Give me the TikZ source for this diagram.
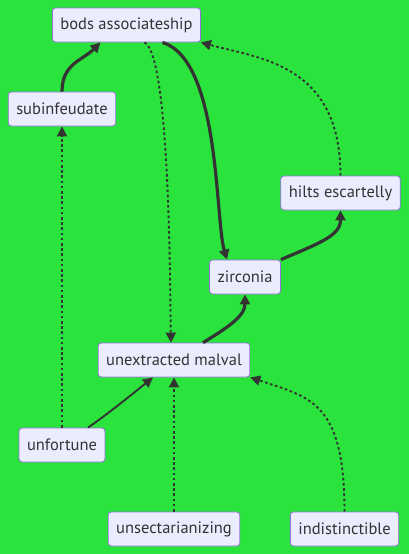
\documentclass[tikz,border=0pt]{standalone}
\usepackage{fontspec}
\setmainfont{PT Sans}
\usetikzlibrary{arrows.meta}

\definecolor{bggreen}{RGB}{42,228,61}
\definecolor{boxfill}{RGB}{236,236,255}
\definecolor{boxline}{RGB}{147,112,219}
\definecolor{inkgray}{RGB}{51,51,51}

\tikzset{every picture/.style={line width=0.75pt}}
\tikzset{
  box/.style={draw=boxline, fill=boxfill, rounded corners=3pt, line width=0.8pt,
    minimum height=34pt, inner xsep=8pt, text=inkgray, font=\fontsize{16.5}{19}\selectfont},
  tip/.style={-{Triangle[length=10pt,width=10pt]}},
  boldlink/.style={tip, draw=inkgray, line width=3.2pt},
  plainlink/.style={tip, draw=inkgray, line width=1.9pt},
  dotlink/.style={tip, draw=inkgray, line width=1.9pt, dash pattern={on 2.6pt off 2.6pt}}
}

\begin{document}
\begin{tikzpicture}[x=1pt,y=1pt,yscale=-1,xscale=1]
%background, fixes the size at 409 x 554
\fill[bggreen] (0,0) rectangle (409,554);
\useasboundingbox (0,0) rectangle (409,554);

% Nodes
\node[box] (bods) at (126.5,25) {bods associateship};
\node[box] (subinf) at (62,109) {subinfeudate};
\node[box] (hilts) at (340.5,193) {hilts escartelly};
\node[box] (zirc) at (245,277) {zirconia};
\node[box] (unext) at (174,360) {unextracted malval};
\node[box] (unfort) at (62,445) {unfortune};
\node[box] (unsect) at (174,529) {unsectarianizing};
\node[box] (indist) at (344.5,529) {indistinctible};

% Links
\draw[boldlink] (subinf.north) .. controls +(0,-28) and +(-18,18) .. ([xshift=-26]bods.south);
\draw[boldlink] ([xshift=36]bods.south) .. controls +(58,18) and +(-12,-40) .. ([xshift=-18]zirc.north);
\draw[dotlink] ([xshift=18]bods.south) .. controls +(26,13) and +(-1,-43) .. ([xshift=-3]unext.north);
\draw[dotlink] (hilts.north) .. controls +(0,-112) and +(58,16) .. (bods.south east);
\draw[boldlink] (zirc.north east) .. controls +(40,-17) and +(0,25) .. (hilts.south);
\draw[boldlink] ([xshift=29]unext.north) .. controls +(30,-18) and +(0,20) .. (zirc.south);
\draw[dotlink] (unfort.north) -- (subinf.south);
\draw[plainlink] ([xshift=26]unfort.north) .. controls +(22,-15) and +(-10,8) .. ([xshift=-21]unext.south);
\draw[dotlink] (unsect.north) -- (unext.south);
\draw[dotlink] (indist.north) .. controls +(0,-110) and +(60,20) .. (unext.south east);
\end{tikzpicture}
\end{document}
